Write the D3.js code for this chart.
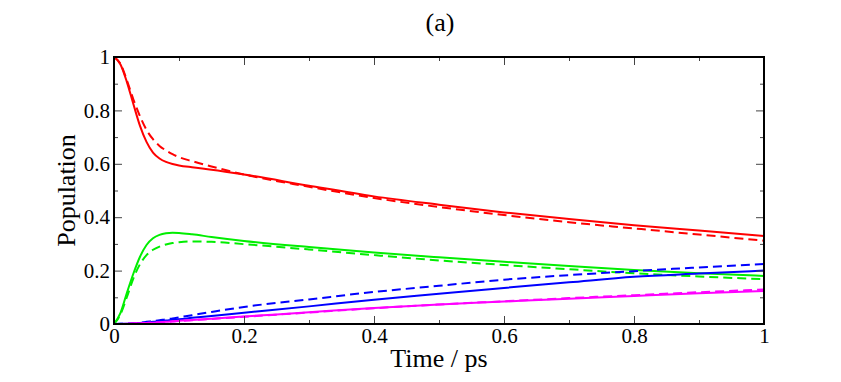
<!DOCTYPE html>
<html lang="en">
<head>
    <meta charset="UTF-8">
    <title>Population (a)</title>
    <script src="https://d3js.org/d3.v7.min.js"></script>
    <style>
        body { margin: 0; background: #fff; }
        text { font-family: "Liberation Serif", "Times New Roman", serif; fill: #000; }
    </style>
</head>
<body>
<svg></svg>
<script>

    // time grid (ps)
    let times = [0, 0.01, 0.02, 0.03, 0.04, 0.05, 0.06, 0.07, 0.08, 0.09, 0.1,
                 0.12, 0.15, 0.2, 0.3, 0.4, 0.5, 0.6, 0.7, 0.8, 0.9, 1.0];

    let redSolid   = [1.0, 0.972, 0.905, 0.822, 0.742, 0.682, 0.642, 0.620, 0.607, 0.599, 0.594,
                      0.587, 0.578, 0.560, 0.518, 0.478, 0.447, 0.418, 0.393, 0.370, 0.350, 0.330];
    let redDashed  = [1.0, 0.975, 0.912, 0.840, 0.778, 0.727, 0.692, 0.667, 0.650, 0.636, 0.625,
                      0.610, 0.590, 0.560, 0.514, 0.472, 0.438, 0.408, 0.381, 0.358, 0.335, 0.312];
    let greenSolid = [0, 0.042, 0.118, 0.190, 0.252, 0.296, 0.321, 0.334, 0.340, 0.342, 0.341,
                      0.336, 0.326, 0.311, 0.288, 0.268, 0.250, 0.233, 0.217, 0.202, 0.190, 0.180];
    let greenDashed= [0, 0.036, 0.102, 0.172, 0.224, 0.258, 0.278, 0.290, 0.298, 0.303, 0.306,
                      0.309, 0.308, 0.299, 0.279, 0.258, 0.238, 0.221, 0.205, 0.190, 0.178, 0.168];
    let blueSolid  = [0, 0.0005, 0.001, 0.002, 0.004, 0.006, 0.008, 0.011, 0.013, 0.016, 0.018,
                      0.023, 0.030, 0.042, 0.066, 0.091, 0.113, 0.135, 0.156, 0.177, 0.189, 0.200];
    let blueDashed = [0, 0.0005, 0.0015, 0.003, 0.005, 0.008, 0.011, 0.014, 0.018, 0.021, 0.025,
                      0.033, 0.045, 0.064, 0.092, 0.120, 0.143, 0.166, 0.183, 0.198, 0.212, 0.225];
    let magSolid   = [0, 0.0003, 0.001, 0.002, 0.003, 0.004, 0.005, 0.007, 0.008, 0.010, 0.012,
                      0.015, 0.020, 0.028, 0.044, 0.060, 0.073, 0.084, 0.095, 0.105, 0.115, 0.124];
    let magDashed  = [0, 0.0003, 0.001, 0.002, 0.003, 0.004, 0.005, 0.006, 0.008, 0.009, 0.011,
                      0.014, 0.019, 0.027, 0.043, 0.059, 0.073, 0.085, 0.097, 0.108, 0.119, 0.129];

    let xTicks = [0, 0.2, 0.4, 0.6, 0.8, 1];
    let yTicks = [0, 0.2, 0.4, 0.6, 0.8, 1];
    let minorTicks = [0.1, 0.3, 0.5, 0.7, 0.9];

    let series = [
        {values: redSolid,    color: "#ff0000", dash: null},
        {values: redDashed,   color: "#ff0000", dash: "9,5"},
        {values: greenSolid,  color: "#00ee00", dash: null},
        {values: greenDashed, color: "#00ee00", dash: "9,5"},
        {values: blueSolid,   color: "#0000ff", dash: null},
        {values: blueDashed,  color: "#0000ff", dash: "9,5"},
        {values: magSolid,    color: "#ff00ff", dash: null},
        {values: magDashed,   color: "#ff00ff", dash: "9,5"}
    ];

    let width = 841, height = 382;
    let mLeft = 114, mRight = 764, mTop = 57, mBottom = 324;

    let svg = d3.select("svg").attr("width", width).attr("height", height);

    let x = d3.scaleLinear().domain([0, 1]).range([mLeft, mRight]);
    let y = d3.scaleLinear().domain([0, 1]).range([mBottom, mTop]);
    let fmt = d3.format("~g");

    // curves
    let line = d3.line()
        .x((d, i) => x(times[i]))
        .y(d => y(d))
        .curve(d3.curveMonotoneX);

    svg.append("g")
        .selectAll("path")
        .data(series)
        .join("path")
        .attr("d", d => line(d.values))
        .attr("fill", "none")
        .attr("stroke", d => d.color)
        .attr("stroke-width", 2)
        .attr("stroke-dasharray", d => d.dash);

    // ticks on all four sides, pointing inward
    function tickAxis(axis, tf, vals, size) {
        let g = svg.append("g").attr("transform", tf)
            .call(axis.tickValues(vals).tickSizeInner(size).tickSizeOuter(0).tickFormat(""));
        g.select(".domain").remove();
        g.selectAll("line").attr("stroke", "#444").attr("stroke-width", 1);
        return g;
    }
    tickAxis(d3.axisBottom(x), `translate(0,${mBottom})`, minorTicks, -4);
    tickAxis(d3.axisTop(x), `translate(0,${mTop})`, minorTicks, -4);
    tickAxis(d3.axisTop(x), `translate(0,${mTop})`, xTicks, -8);
    tickAxis(d3.axisLeft(y), `translate(${mLeft},0)`, minorTicks, -4);
    tickAxis(d3.axisRight(y), `translate(${mRight},0)`, minorTicks, -4);
    tickAxis(d3.axisRight(y), `translate(${mRight},0)`, yTicks, -8);

    let xAxis = svg.append("g").attr("transform", `translate(0,${mBottom})`)
        .call(d3.axisBottom(x).tickValues(xTicks).tickSizeInner(-8).tickSizeOuter(0)
            .tickPadding(4).tickFormat(fmt));
    let yAxis = svg.append("g").attr("transform", `translate(${mLeft},0)`)
        .call(d3.axisLeft(y).tickValues(yTicks).tickSizeInner(-8).tickSizeOuter(0)
            .tickPadding(4).tickFormat(fmt));
    [xAxis, yAxis].forEach(g => {
        g.select(".domain").remove();
        g.selectAll("line").attr("stroke", "#444").attr("stroke-width", 1);
        g.selectAll("text")
            .style("font-family", '"Liberation Serif", "Times New Roman", serif')
            .style("font-size", "21px")
            .attr("fill", "#000");
    });

    // frame
    svg.append("rect")
        .attr("x", mLeft).attr("y", mTop)
        .attr("width", mRight - mLeft).attr("height", mBottom - mTop)
        .attr("fill", "none")
        .attr("stroke", "#000")
        .attr("stroke-width", 2);

    // labels
    svg.append("text")
        .attr("x", (mLeft + mRight) / 2).attr("y", 367)
        .attr("text-anchor", "middle")
        .style("font-size", "26px")
        .text("Time / ps");

    svg.append("text")
        .attr("transform", `translate(75,${(mTop + mBottom) / 2}) rotate(-90)`)
        .attr("text-anchor", "middle")
        .style("font-size", "26px")
        .text("Population");

    svg.append("text")
        .attr("x", 440).attr("y", 31)
        .attr("text-anchor", "middle")
        .style("font-size", "26px")
        .text("(a)");

</script>
</body>
</html>
